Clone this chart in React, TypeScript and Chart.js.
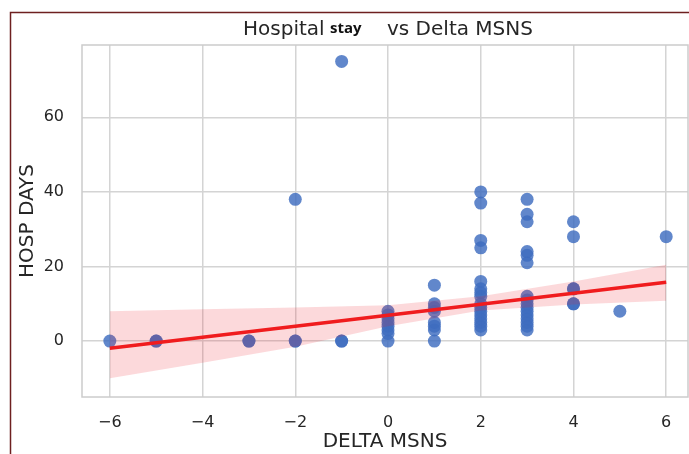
import React, { useEffect, useRef } from "react";
import { Chart, registerables } from "chart.js";
Chart.register(...registerables);

// Scatter data: change in MSNS vs hospital days
const DELTA_MSNS = [
  -6,
  -5, -5,
  -3, -3,
  -2, -2, -2,
  -1, -1, -1,
  0, 0, 0, 0, 0, 0, 0, 0,
  1, 1, 1, 1, 1, 1, 1, 1,
  2, 2, 2, 2, 2, 2, 2, 2, 2, 2, 2, 2, 2, 2, 2, 2,
  3, 3, 3, 3, 3, 3, 3, 3, 3, 3, 3, 3, 3, 3, 3, 3,
  4, 4, 4, 4, 4, 4,
  5,
  6,
];
const HOSP_DAYS = [
  0,
  0, 0,
  0, 0,
  0, 0, 38,
  0, 0, 75,
  0, 2, 3, 4, 5, 6, 7, 8,
  0, 3, 4, 5, 8, 9, 10, 15,
  3, 4, 5, 6, 7, 8, 9, 10, 12, 13, 14, 16, 25, 27, 37, 40,
  3, 4, 5, 6, 7, 8, 9, 10, 11, 12, 21, 23, 24, 32, 34, 38,
  10, 10, 14, 14, 28, 32,
  8,
  28,
];

// Regression line
const FIT_X = [-6, 6];
const FIT_Y = [-1.95, 15.75];

// Confidence band
const BAND_X = [-6, -4, -2, 0, 2, 4, 6];
const BAND_UPPER = [8.0, 8.5, 9.0, 9.6, 12.0, 16.0, 20.5];
const BAND_LOWER = [-10.0, -5.8, -1.5, 4.0, 8.2, 9.8, 10.8];

const X_TICKS = [-6, -4, -2, 0, 2, 4, 6];
const Y_TICKS = [0, 20, 40, 60];

const TITLE_A = "Hospital";
const TITLE_B = "stay";
const TITLE_C = "vs Delta MSNS";
const X_LABEL = "DELTA MSNS";
const Y_LABEL = "HOSP DAYS";

const FONT = "'DejaVu Sans', sans-serif";
const TEXT = "#262626";

const decorPlugin = {
  id: "decor",
  beforeDatasetsDraw(chart: any) {
    const { ctx, chartArea } = chart;
    ctx.save();
    ctx.strokeStyle = "#cccccc";
    ctx.lineWidth = 1.5;
    ctx.strokeRect(chartArea.left, chartArea.top, chartArea.right - chartArea.left, chartArea.bottom - chartArea.top);
    ctx.restore();
  },
  afterDraw(chart: any) {
    const { ctx } = chart;
    ctx.save();
    // frame
    ctx.strokeStyle = "#6e2020";
    ctx.lineWidth = 1.5;
    ctx.beginPath();
    ctx.moveTo(10.5, 454);
    ctx.lineTo(10.5, 12.5);
    ctx.lineTo(689, 12.5);
    ctx.stroke();
    // title
    ctx.fillStyle = TEXT;
    ctx.textBaseline = "alphabetic";
    ctx.textAlign = "left";
    const y = 35;
    ctx.font = `20px ${FONT}`;
    ctx.fillText(TITLE_A, 243, y);
    ctx.font = `bold 15px 'Open Sans', sans-serif`;
    ctx.fillStyle = "#111";
    ctx.fillText(TITLE_B, 330, y - 2);
    ctx.fillStyle = TEXT;
    ctx.font = `20px ${FONT}`;
    ctx.fillText(TITLE_C, 387, y);
    ctx.restore();
  },
};

export default function App() {
  const ref = useRef<HTMLCanvasElement | null>(null);
  useEffect(() => {
    if (!ref.current) return;
    const points = DELTA_MSNS.map((x, i) => ({ x, y: HOSP_DAYS[i] }));
    const fit = FIT_X.map((x, i) => ({ x, y: FIT_Y[i] }));
    const upper = BAND_X.map((x, i) => ({ x, y: BAND_UPPER[i] }));
    const lower = BAND_X.map((x, i) => ({ x, y: BAND_LOWER[i] }));
    const chart = new Chart(ref.current, {
      type: "scatter",
      data: {
        datasets: [
          {
            type: "line",
            data: fit,
            borderColor: "rgb(240,28,30)",
            borderWidth: 3.5,
            pointRadius: 0,
            fill: false,
            order: 0,
          } as any,
          {
            type: "line",
            data: upper,
            borderWidth: 0,
            borderColor: "rgba(0,0,0,0)",
            pointRadius: 0,
            backgroundColor: "rgba(235,30,40,0.17)",
            fill: "+1",
            order: 1,
          } as any,
          {
            type: "line",
            data: lower,
            borderWidth: 0,
            borderColor: "rgba(0,0,0,0)",
            pointRadius: 0,
            fill: false,
            order: 2,
          } as any,
          {
            type: "scatter",
            data: points,
            backgroundColor: "rgba(62,108,192,0.82)",
            borderWidth: 0,
            pointRadius: 6.5,
            order: 3,
          } as any,
        ],
      },
      options: {
        animation: false,
        responsive: false,
        layout: { autoPadding: false, padding: { top: 45, right: 1, left: 0, bottom: 0 } },
        plugins: { legend: { display: false }, tooltip: { enabled: false }, title: { display: false } },
        scales: {
          x: {
            type: "linear",
            min: -6.6,
            max: 6.47,
            afterBuildTicks: (s: any) => {
              s.ticks = X_TICKS.map((v) => ({ value: v }));
            },
            afterFit: (s: any) => {
              s.height = 57;
              s.paddingLeft = 0;
              s.paddingRight = 0;
            },
            grid: { color: "#d4d4d4", lineWidth: 1.5, drawTicks: false },
            border: { display: false },
            ticks: {
              font: { family: FONT, size: 16 },
              color: TEXT,
              padding: 16,
              autoSkip: false,
              maxRotation: 0,
              callback: (v: any) => (v < 0 ? "\u2212" + Math.abs(v) : String(v)),
            },
            title: { display: true, text: X_LABEL, font: { family: FONT, size: 20 }, color: TEXT, padding: { top: 0, bottom: 0 } },
          },
          y: {
            type: "linear",
            min: -15.0,
            max: 79.4,
            afterBuildTicks: (s: any) => {
              s.ticks = Y_TICKS.map((v) => ({ value: v }));
            },
            afterFit: (s: any) => {
              s.width = 82;
              s.paddingTop = 0;
              s.paddingBottom = 0;
            },
            grid: { color: "#d4d4d4", lineWidth: 1.5, drawTicks: false },
            border: { display: false },
            ticks: {
              font: { family: FONT, size: 16 },
              color: TEXT,
              padding: 18,
              autoSkip: false,
            },
            title: { display: true, text: Y_LABEL, font: { family: FONT, size: 20 }, color: TEXT, padding: { top: 16, bottom: 0 } },
          },
        },
      },
      plugins: [decorPlugin],
    });
    return () => chart.destroy();
  }, []);
  return (
    <div style={{ position: "absolute", left: 0, top: 0, width: 689, height: 454, background: "#fff" }}>
      <canvas ref={ref} width={689} height={454} style={{ display: "block" }} />
    </div>
  );
}
